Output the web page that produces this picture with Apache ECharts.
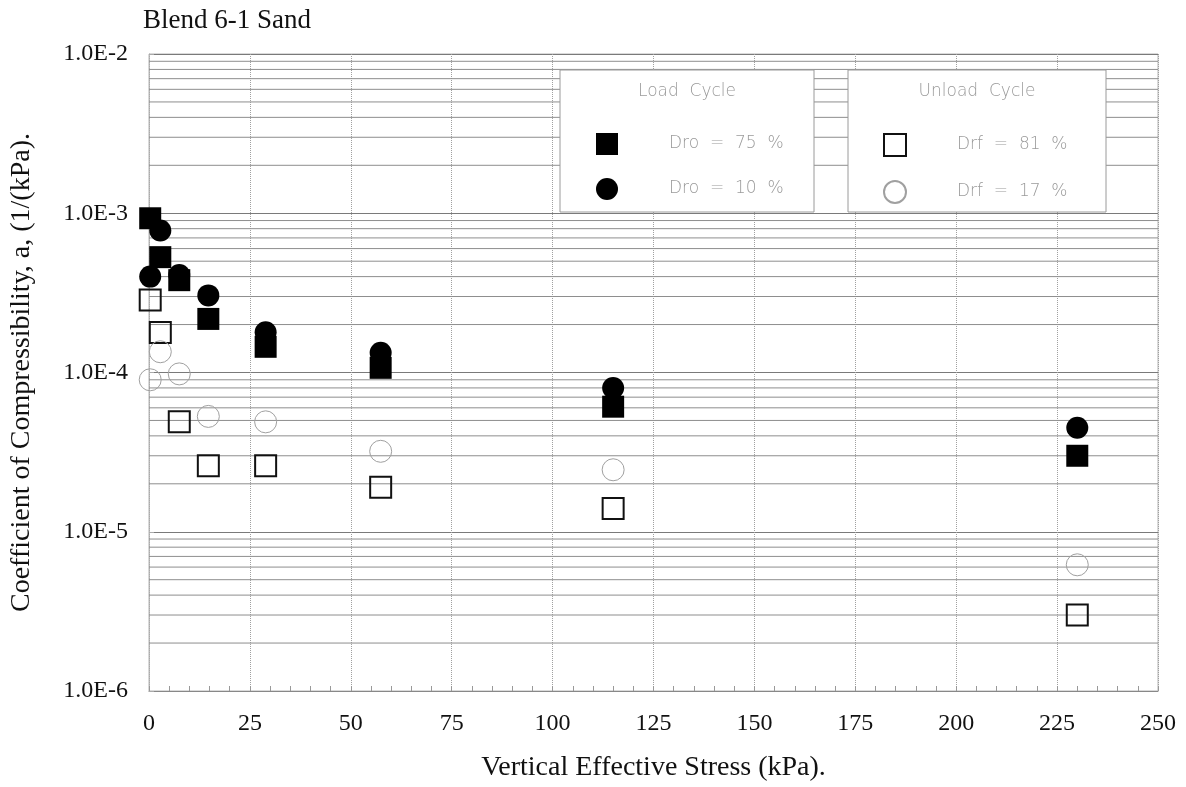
<!DOCTYPE html>
<html>
<head>
<meta charset="utf-8">
<script src="https://cdn.jsdelivr.net/npm/echarts@6/dist/echarts.min.js"></script>
<style>
html,body{margin:0;padding:0;background:#fff;}
#chart{width:1186px;height:787px;}
</style>
</head>
<body>
<div id="chart"></div>
<script>
// ---- data ----
const xStress = [0.3, 2.8, 7.5, 14.7, 28.9, 57.4, 115, 230];
const load75 = [9.3e-4, 5.3e-4, 3.8e-4, 2.17e-4, 1.45e-4, 1.07e-4, 6.1e-5, 3.0e-5];
const load10 = [4.0e-4, 7.8e-4, 4.1e-4, 3.05e-4, 1.79e-4, 1.33e-4, 8.0e-5, 4.5e-5];
const unload81 = [2.85e-4, 1.78e-4, 4.9e-5, 2.6e-5, 2.6e-5, 1.9e-5, 1.4e-5, 3.0e-6];
const unload17 = [9.0e-5, 1.35e-4, 9.8e-5, 5.3e-5, 4.9e-5, 3.2e-5, 2.45e-5, 6.2e-6];
const seriesNames = ['Dro = 75 %', 'Dro = 10 %', 'Drf = 81 %', 'Drf = 17 %'];
const xTickLabels = ['0','25','50','75','100','125','150','175','200','225','250'];
const yTickLabels = {'-6':'1.0E-6','-5':'1.0E-5','-4':'1.0E-4','-3':'1.0E-3','-2':'1.0E-2'};
const yMinorLines = [2e-6,3e-6,4e-6,5e-6,6e-6,7e-6,8e-6,9e-6,
                     2e-5,3e-5,4e-5,5e-5,6e-5,7e-5,8e-5,9e-5,
                     2e-4,3e-4,4e-4,5e-4,6e-4,7e-4,8e-4,9e-4,
                     2e-3,3e-3,4e-3,5e-3,6e-3,7e-3,8e-3,9e-3];
const titleText = 'Blend 6-1 Sand';
const xName = 'Vertical Effective Stress (kPa).';
const yName = 'Coefficient of Compressibility, a, (1/(kPa).';

function pairs(ys){ return xStress.map((x,i)=>[x, ys[i]]); }

const serif = 'Liberation Serif';
const chart = echarts.init(document.getElementById('chart'), null, {renderer:'canvas'});
const legendText = {fontFamily:'DejaVu Sans', fontWeight:200, fontSize:17, color:'#9a9a9a', padding:[0,0,0,46]};
const option = {
  backgroundColor:'#fff',
  animation:false,
  title:{text:titleText, left:143, top:7, padding:0,
    textStyle:{fontFamily:serif, fontWeight:'normal', fontSize:27, color:'#111'}},
  grid:{left:136, right:28, top:54, bottom:77, show:true, borderColor:'#b5b5b5', borderWidth:1},
  xAxis:{type:'value', min:0, max:250, interval:25,
    axisLine:{lineStyle:{color:'#888'}},
    axisTick:{show:true, inside:true, length:5, lineStyle:{color:'#999'}},
    minorTick:{show:true, splitNumber:5, length:5, lineStyle:{color:'#999'}},
    splitLine:{show:true, lineStyle:{color:'#a0a0a0', type:'dotted', width:1}},
    axisLabel:{fontFamily:serif, fontSize:24, color:'#111', margin:21,
      formatter:(v)=>xTickLabels[Math.round(v/25)]},
    name:xName, nameLocation:'middle', nameGap:63,
    nameTextStyle:{fontFamily:serif, fontSize:28, color:'#111'}},
  yAxis:{type:'log', logBase:10, min:1e-6, max:1e-2, splitNumber:4,
    axisLine:{lineStyle:{color:'#aaa', type:'dotted'}},
    axisTick:{show:true, inside:true, length:5, lineStyle:{color:'#aaa'}},
    splitLine:{show:true, lineStyle:{color:'#7a7a7a', width:1}},
    axisLabel:{fontFamily:serif, fontSize:24, color:'#111', margin:21,
      formatter:(v)=>yTickLabels[String(Math.round(Math.log10(v)))] || ''},
    name:yName, nameLocation:'middle', nameGap:113,
    nameTextStyle:{fontFamily:serif, fontSize:28, color:'#111'}},
  legend:[
    {data:[seriesNames[0], seriesNames[1]], orient:'vertical', left:596, top:133, padding:0,
     itemWidth:22, itemHeight:22, itemGap:23, z:20, textStyle:legendText,
     formatter:(n)=>n.replace(/ /g,'  ')},
    {data:[seriesNames[2], seriesNames[3]], orient:'vertical', left:883, top:133, padding:0,
     itemWidth:22, itemHeight:22, itemGap:23, z:20, textStyle:legendText,
     formatter:(n)=>n.replace(/ /g,'  ')}
  ],
  graphic:[
    {type:'rect', z:15, shape:{x:560, y:70, width:254, height:142},
     style:{fill:'#fff', stroke:'#9a9a9a', lineWidth:1}},
    {type:'rect', z:15, shape:{x:848, y:70, width:258, height:142},
     style:{fill:'#fff', stroke:'#9a9a9a', lineWidth:1}},
    {type:'text', z:16, x:687, y:92,
     style:{text:'Load  Cycle', fontFamily:'DejaVu Sans', fontWeight:200, fontSize:17, fill:'#9a9a9a',
            textAlign:'center', textVerticalAlign:'middle'}},
    {type:'text', z:16, x:977, y:92,
     style:{text:'Unload  Cycle', fontFamily:'DejaVu Sans', fontWeight:200, fontSize:17, fill:'#9a9a9a',
            textAlign:'center', textVerticalAlign:'middle'}}
  ],
  series:[
    {type:'custom', name:'minorGrid', silent:true, z:1, clip:false,
     data:yMinorLines.map(v=>[0, v]),
     encode:{x:0, y:1},
     renderItem:function(params, api){
       const cs = params.coordSys;
       const p = api.coord([0, api.value(1)]);
       return {type:'line', shape:{x1:cs.x, y1:p[1], x2:cs.x+cs.width, y2:p[1]},
               style:{stroke:'#8e8e8e', lineWidth:1}};
     }},
    {type:'scatter', name:seriesNames[0], data:pairs(load75), symbol:'rect', symbolSize:22,
     itemStyle:{color:'#000', opacity:1}, z:5},
    {type:'scatter', name:seriesNames[1], data:pairs(load10), symbol:'circle', symbolSize:22,
     itemStyle:{color:'#000', opacity:1}, z:5},
    {type:'scatter', name:seriesNames[2], data:pairs(unload81), symbol:'rect', symbolSize:21,
     itemStyle:{color:'rgba(255,255,255,0)', borderColor:'#111', borderWidth:2, opacity:1}, z:4},
    {type:'scatter', name:seriesNames[3], data:pairs(unload17), symbol:'circle', symbolSize:22,
     itemStyle:{color:'rgba(255,255,255,0)', borderColor:'#a0a0a0', borderWidth:1, opacity:1}, z:4}
  ]
};
chart.setOption(option);
</script>
</body>
</html>
